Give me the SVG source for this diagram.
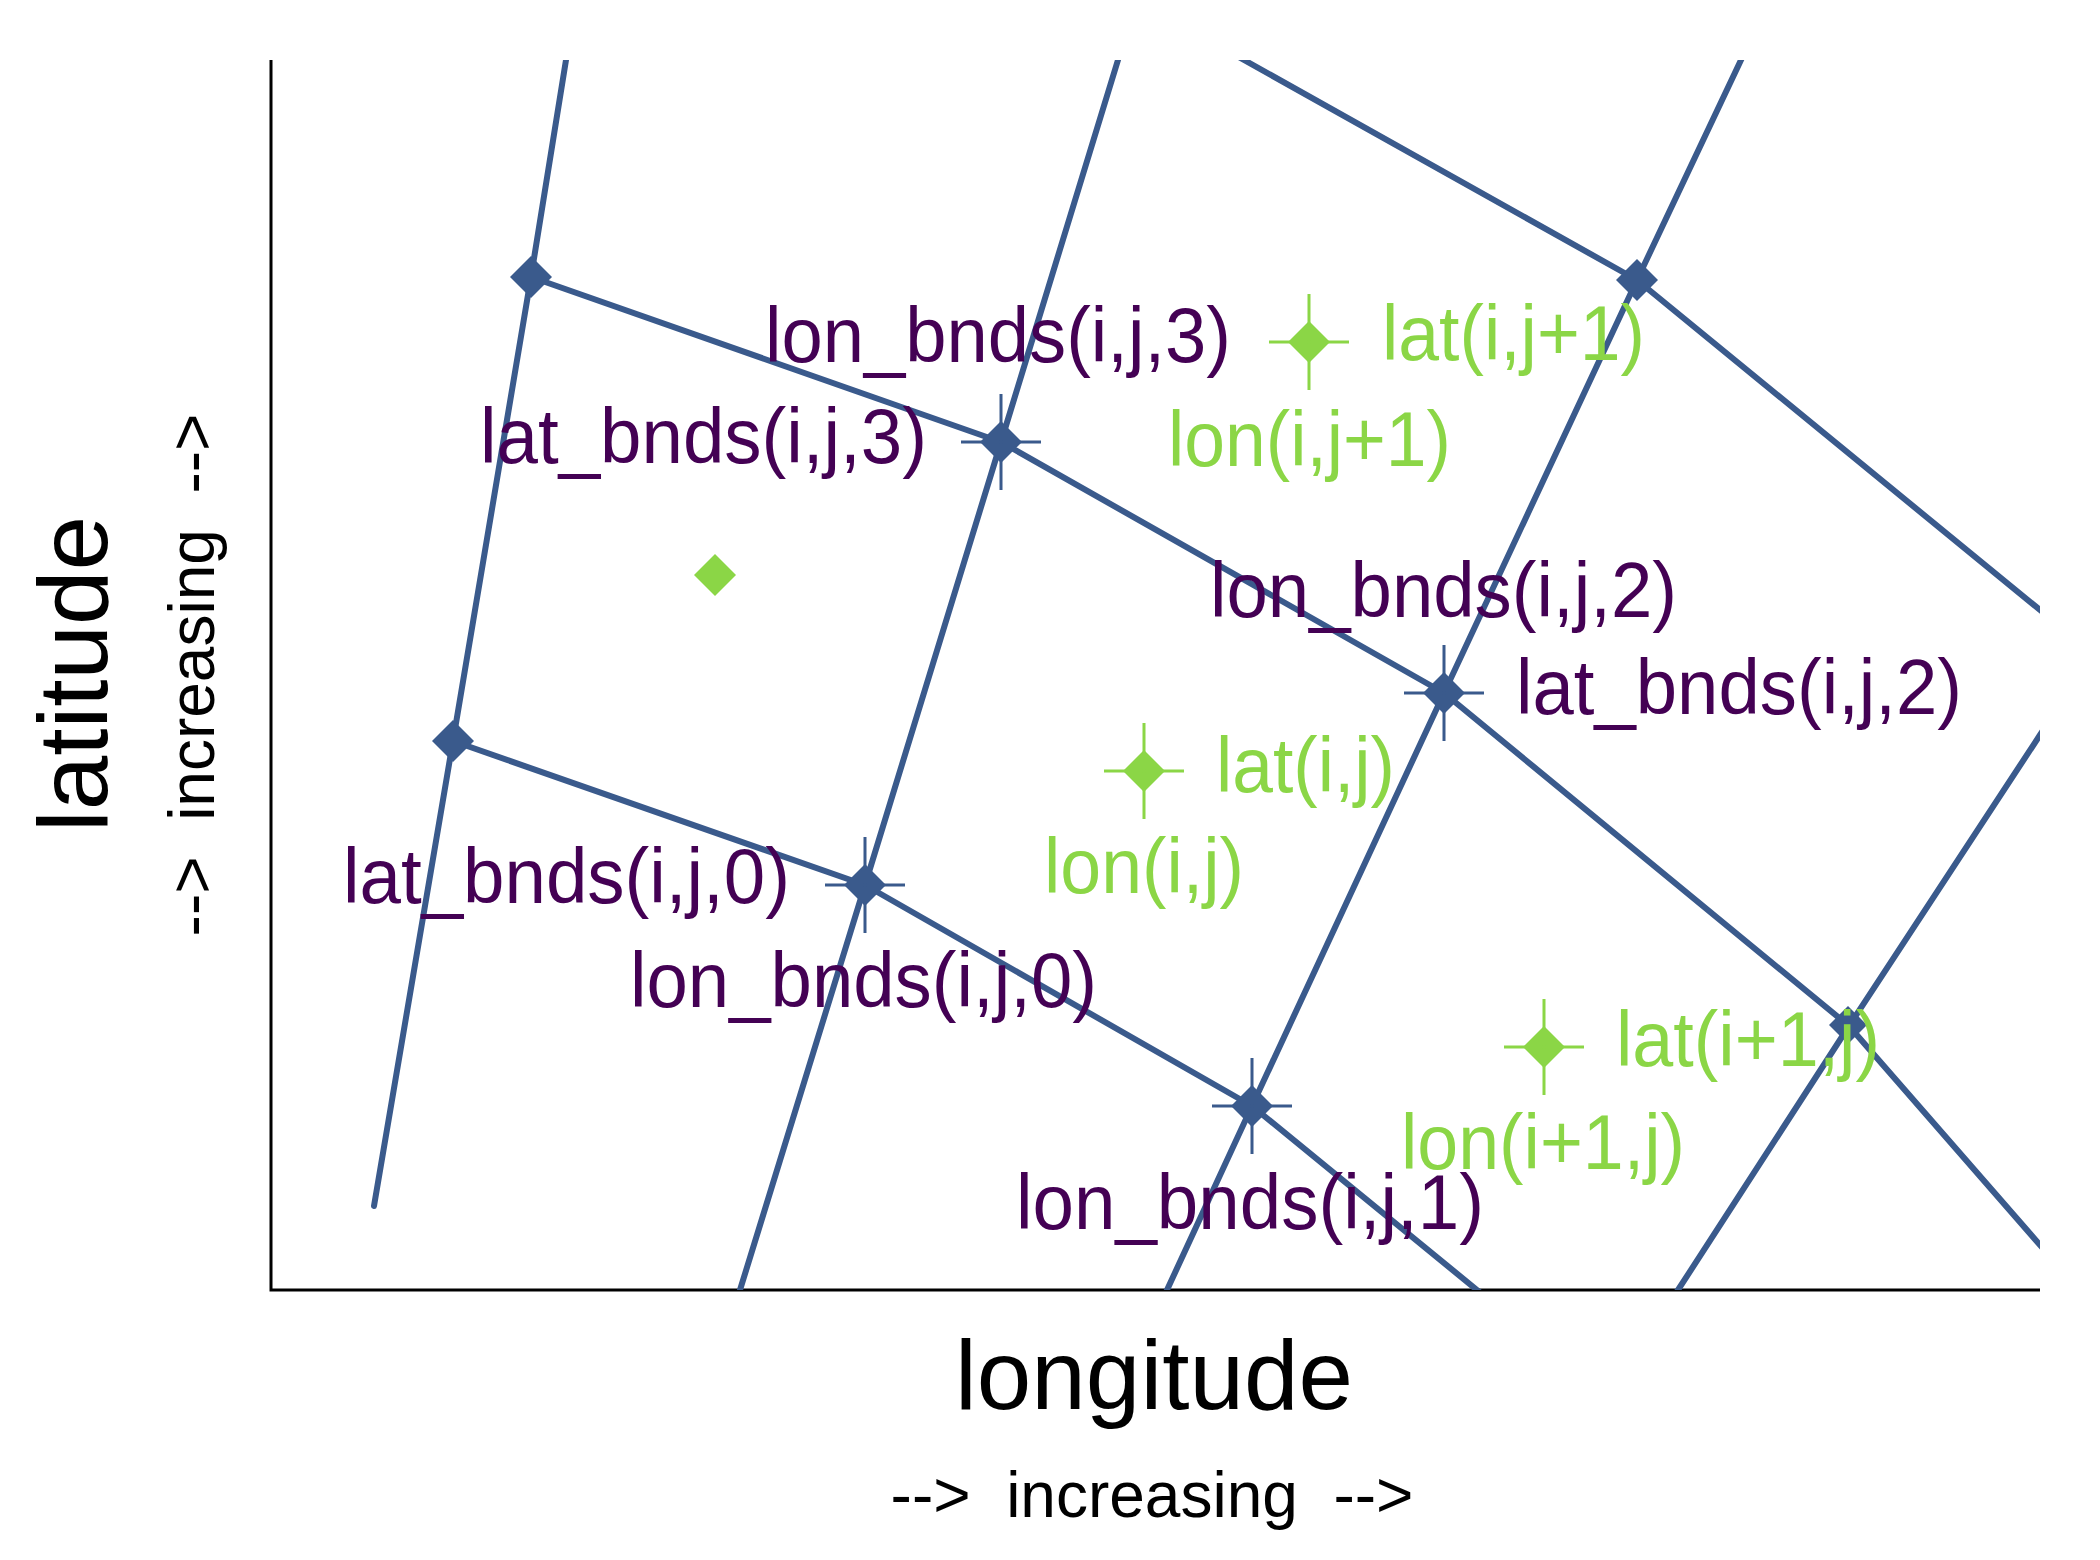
<svg xmlns="http://www.w3.org/2000/svg" xmlns:xlink="http://www.w3.org/1999/xlink" width="2100" height="1560" viewBox="0 0 2100 1560">
<style>
text{font-family:"Liberation Sans",Arial,Helvetica,sans-serif;}
.bnd{fill:#440154;font-size:78px;}
.ctr{fill:#8BD646;font-size:78px;}
.axl{fill:#000;font-size:98px;}
.axs{fill:#000;font-size:64px;}
.grid{fill:none;stroke:#3A5A8C;stroke-width:6;stroke-linecap:round;stroke-linejoin:round;}
.bx{fill:none;stroke:#3A5A8C;stroke-width:3;}
.gx{fill:none;stroke:#8BD646;stroke-width:3;}
</style>
<defs>
<clipPath id="plot"><rect x="270" y="60" width="1770" height="1230"/></clipPath>
<path id="dia" d="M0,-21L21,0L0,21L-21,0Z"/>
<path id="crs" d="M-40,0H40M0,-48V48"/>
</defs>
<rect width="2100" height="1560" fill="#fff"/>
<g id="axes"><path d="M271,60V1290H2040" fill="none" stroke="#000" stroke-width="3"/></g>
<g id="connectors" clip-path="url(#plot)">
<polyline class="grid" points="570,36 566,60 531,277 453,741 374,1206"/>
<polyline class="grid" points="1125,36 1118,60 1001,442 865,885 740,1290 735,1310"/>
<polyline class="grid" points="1752,36 1741,60 1637,280 1444,693 1252,1106 1167,1290 1158,1310"/>
<polyline class="grid" points="2060,704 2040,735 1849,1026 1678,1290 1665,1310"/>
<polyline class="grid" points="1204,37 1244,60 1637,280 2040,610 2060,626"/>
<polyline class="grid" points="531,277 1001,442 1444,693 1849,1026 2040,1245 2060,1268"/>
<polyline class="grid" points="453,741 865,885 1252,1106 1477,1290 1500,1309"/>
</g>
<g id="corner-markers" fill="#3A5A8C">
<g id="nA"><use xlink:href="#dia" x="531" y="277"/></g>
<g id="nB"><use xlink:href="#dia" x="453" y="741"/></g>
<g id="nC"><use xlink:href="#dia" x="1001" y="442"/><use xlink:href="#crs" class="bx" x="1001" y="442"/></g>
<g id="nD"><use xlink:href="#dia" x="865" y="885"/><use xlink:href="#crs" class="bx" x="865" y="885"/></g>
<g id="nE"><use xlink:href="#dia" x="1637" y="280"/></g>
<g id="nF"><use xlink:href="#dia" x="1444" y="693"/><use xlink:href="#crs" class="bx" x="1444" y="693"/></g>
<g id="nG"><use xlink:href="#dia" x="1252" y="1106"/><use xlink:href="#crs" class="bx" x="1252" y="1106"/></g>
<g id="nH"><path d="M1848,1006L1867,1025L1848,1044L1829,1025Z"/></g>
</g>
<g id="center-markers" fill="#8BD646">
<g id="c0"><use xlink:href="#dia" x="715" y="575"/></g>
<g id="c1"><use xlink:href="#dia" x="1309" y="342"/><use xlink:href="#crs" class="gx" x="1309" y="342"/></g>
<g id="c2"><use xlink:href="#dia" x="1144" y="771"/><use xlink:href="#crs" class="gx" x="1144" y="771"/></g>
<g id="c3"><use xlink:href="#dia" x="1544" y="1047"/><use xlink:href="#crs" class="gx" x="1544" y="1047"/></g>
</g>
<g id="bnd-labels">
<text class="bnd" x="765" y="362" textLength="466" lengthAdjust="spacingAndGlyphs">lon_bnds(i,j,3)</text>
<text class="bnd" x="480" y="463" textLength="447" lengthAdjust="spacingAndGlyphs">lat_bnds(i,j,3)</text>
<text class="bnd" x="1210" y="617" textLength="467" lengthAdjust="spacingAndGlyphs">lon_bnds(i,j,2)</text>
<text class="bnd" x="1516" y="714" textLength="446" lengthAdjust="spacingAndGlyphs">lat_bnds(i,j,2)</text>
<text class="bnd" x="343" y="903" textLength="447" lengthAdjust="spacingAndGlyphs">lat_bnds(i,j,0)</text>
<text class="bnd" x="630" y="1007" textLength="467" lengthAdjust="spacingAndGlyphs">lon_bnds(i,j,0)</text>
<text class="bnd" x="1016" y="1229" textLength="468" lengthAdjust="spacingAndGlyphs">lon_bnds(i,j,1)</text>
</g>
<g id="center-labels">
<text class="ctr" x="1382" y="360" textLength="263" lengthAdjust="spacingAndGlyphs">lat(i,j+1)</text>
<text class="ctr" x="1168" y="466" textLength="283" lengthAdjust="spacingAndGlyphs">lon(i,j+1)</text>
<text class="ctr" x="1216" y="792" textLength="179" lengthAdjust="spacingAndGlyphs">lat(i,j)</text>
<text class="ctr" x="1044" y="893" textLength="200" lengthAdjust="spacingAndGlyphs">lon(i,j)</text>
<text class="ctr" x="1616" y="1066" textLength="264" lengthAdjust="spacingAndGlyphs">lat(i+1,j)</text>
<text class="ctr" x="1401" y="1169" textLength="284" lengthAdjust="spacingAndGlyphs">lon(i+1,j)</text>
</g>
<g id="axis-titles">
<text class="axl" x="1154" y="1409" text-anchor="middle">longitude</text>
<text class="axs" x="1152" y="1517" text-anchor="middle" xml:space="preserve">--&gt;  increasing  --&gt;</text>
<text class="axl" transform="translate(107,674) rotate(-90)" text-anchor="middle">latitude</text>
<text class="axs" transform="translate(214,675) rotate(-90)" text-anchor="middle" xml:space="preserve">--&gt;  increasing  --&gt;</text>
</g>
</svg>
